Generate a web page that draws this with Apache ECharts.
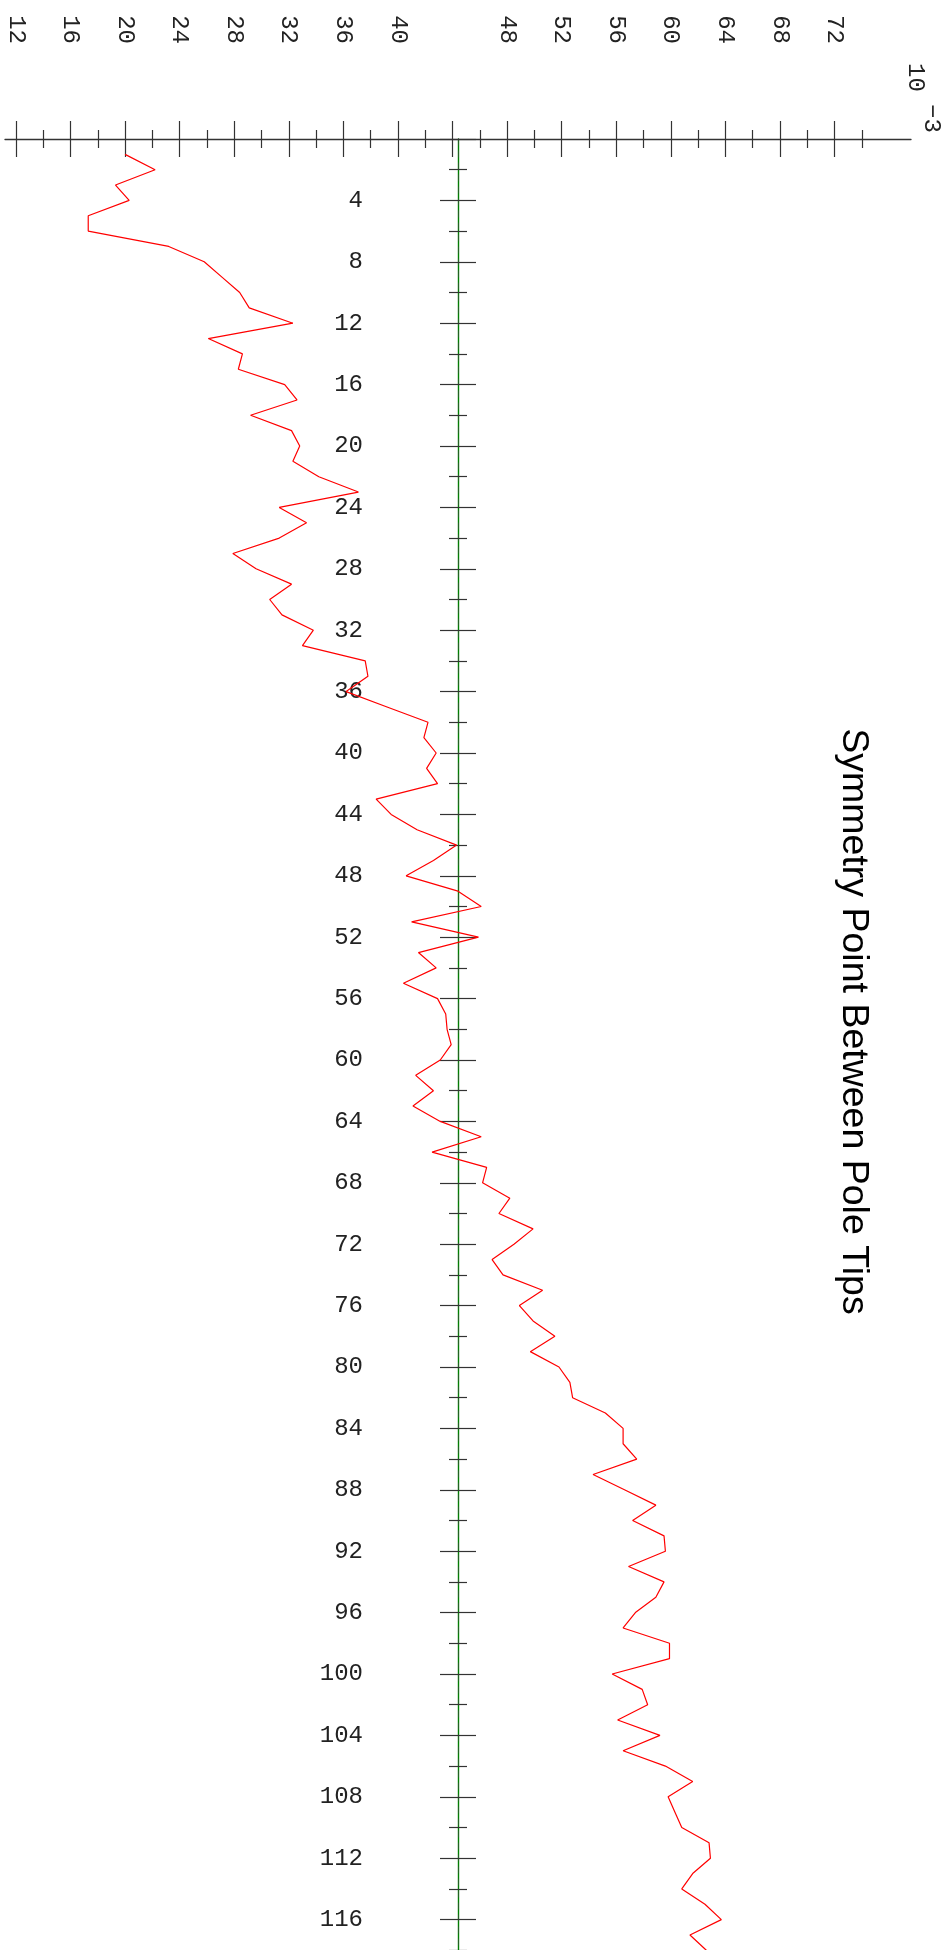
<!DOCTYPE html>
<html>
<head>
<meta charset="utf-8">
<script src="https://cdn.jsdelivr.net/npm/echarts@6.0.0/dist/echarts.min.js"></script>
<style>
html,body{margin:0;padding:0;background:#ffffff;}
#chart{width:944px;height:1950px;}
</style>
</head>
<body>
<div id="chart"></div>
<script>
// ---- data ----
const sampleIndex = [
  1,2,3,4,5,6,7,8,9,10,11,12,13,14,15,16,17,18,19,20,
  21,22,23,24,25,26,27,28,29,30,31,32,33,34,35,36,37,38,39,40,
  41,42,43,44,45,46,47,48,49,50,51,52,53,54,55,56,57,58,59,60,
  61,62,63,64,65,66,67,68,69,70,71,72,73,74,75,76,77,78,79,80,
  81,82,83,84,85,86,87,88,89,90,91,92,93,94,95,96,97,98,99,100,
  101,102,103,104,105,106,107,108,109,110,111,112,113,114,115,116,117,118
];
// symmetry point (units of 10^-3)
const symmetryPoint = [
  20.0,22.2,19.3,20.3,17.3,17.3,23.2,25.8,27.1,28.4,
  29.1,32.3,26.1,28.6,28.3,31.7,32.6,29.2,32.2,32.8,
  32.3,34.2,37.1,31.3,33.3,31.3,27.9,29.6,32.2,30.6,
  31.5,33.8,33.0,37.6,37.8,36.2,39.2,42.2,41.9,42.8,
  42.1,42.9,38.4,39.5,41.4,44.3,42.6,40.6,44.4,46.1,
  41.0,45.9,41.5,42.8,40.4,42.9,43.5,43.6,43.9,43.1,
  41.3,42.6,41.1,43.1,46.1,42.5,46.5,46.2,48.2,47.4,
  49.9,48.5,46.9,47.7,50.6,48.9,49.9,51.5,49.7,51.8,
  52.6,52.8,55.2,56.5,56.5,57.5,54.3,56.6,58.9,57.2,
  59.5,59.6,56.9,59.5,58.9,57.4,56.5,59.9,59.9,55.7,
  57.9,58.3,56.1,59.2,56.5,59.6,61.6,59.8,60.3,60.8,
  62.8,62.9,61.6,60.8,62.5,63.7,61.4,62.6
];
const valueMajorTicks = [12,16,20,24,28,32,36,40,44,48,52,56,60,64,68,72];
const valueMinorTicks = [14,18,22,26,30,34,38,42,46,50,54,58,62,66,70,74];
const valueTickLabels = [12,16,20,24,28,32,36,40,48,52,56,60,64,68,72];
const valueRange = [11.2, 77.6];
const indexRange = [0, 120];
const indexInterval = 4;
const titleText = 'Symmetry Point Between Pole Tips';
const scaleBase = '10';
const scaleExp = '\u22123';

// ---- layout ----
const G_LEFT = 5, G_TOP = 139, G_WIDTH = 906, PX_PER_INDEX = 15.35;
const G_HEIGHT = (indexRange[1] - indexRange[0]) * PX_PER_INDEX;
const midValue = (valueRange[0] + valueRange[1]) / 2;
const axisX = G_LEFT + (midValue - valueRange[0]) / (valueRange[1] - valueRange[0]) * G_WIDTH;

const MONO = '"Liberation Mono", "DejaVu Sans Mono", monospace';
const TICK_COLOR = '#333';
const labelFont = {fontFamily: MONO, fontSize: 24, color: '#222'};

function valueAxis(ticks, len, inside, withLine, withLabels) {
  return {
    type: 'value', gridIndex: 0, position: 'top', offset: 0,
    min: valueRange[0], max: valueRange[1],
    axisLine: {show: withLine, lineStyle: {color: '#333', width: 1.3}},
    axisTick: {show: true, customValues: ticks, length: len, inside: inside,
               lineStyle: {color: TICK_COLOR, width: 1.2}},
    axisLabel: withLabels ? Object.assign({show: true, customValues: valueTickLabels,
               rotate: -90, margin: 95}, labelFont) : {show: false},
    splitLine: {show: false}
  };
}
function indexAxis(inside, primary) {
  return {
    type: 'value', gridIndex: 1, position: 'left', offset: 0, inverse: true,
    min: indexRange[0], max: indexRange[1], interval: indexInterval,
    axisLine: primary
      ? {show: true, lineStyle: {color: '#008000', width: 1.4}}
      : {show: true, lineStyle: {color: '#444', width: 1, type: [6, 6], opacity: 0.55}},
    axisTick: {show: true, length: 18, inside: inside, lineStyle: {color: TICK_COLOR, width: 1.2}},
    minorTick: {show: true, splitNumber: 2, length: 9, lineStyle: {color: TICK_COLOR, width: 1.2}},
    axisLabel: primary ? Object.assign({show: true, margin: 95, showMinLabel: false}, labelFont) : {show: false},
    splitLine: {show: false}, minorSplitLine: {show: false}
  };
}

const chart = echarts.init(document.getElementById('chart'), null, {renderer: 'canvas'});
chart.setOption({
  animation: false,
  backgroundColor: '#ffffff',
  grid: [
    {left: G_LEFT, top: G_TOP, width: G_WIDTH, height: G_HEIGHT, outerBoundsMode: 'none', containLabel: false},
    {left: axisX, top: G_TOP, width: 300, height: G_HEIGHT, outerBoundsMode: 'none', containLabel: false}
  ],
  xAxis: [
    valueAxis(valueMajorTicks, 18, false, true, true),
    valueAxis(valueMajorTicks, 18, true, false, false),
    valueAxis(valueMinorTicks, 9, false, false, false),
    valueAxis(valueMinorTicks, 9, true, false, false),
    {type: 'value', gridIndex: 1, show: false, min: 0, max: 1}
  ],
  yAxis: [
    {type: 'value', gridIndex: 0, show: false, inverse: true, min: indexRange[0], max: indexRange[1]},
    indexAxis(false, true),
    indexAxis(true, false)
  ],
  series: [{
    type: 'line', xAxisIndex: 0, yAxisIndex: 0,
    data: symmetryPoint.map((v, i) => [v, sampleIndex[i]]),
    showSymbol: false, symbol: 'none',
    lineStyle: {color: '#ff0000', width: 1.2},
    z: 5
  }],
  graphic: [
    {type: 'text', x: 853, y: 1021.5, rotation: -Math.PI / 2,
     style: {text: titleText, font: '37.5px "Liberation Sans", Arial, sans-serif', fill: '#000',
             align: 'center', verticalAlign: 'middle'}},
    {type: 'text', x: 915, y: 63, rotation: -Math.PI / 2,
     style: {text: scaleBase, font: '24px ' + MONO, fill: '#222', align: 'left', verticalAlign: 'middle'}},
    {type: 'text', x: 931, y: 104, rotation: -Math.PI / 2,
     style: {text: scaleExp, font: '24px ' + MONO, fill: '#222', align: 'left', verticalAlign: 'middle'}}
  ]
});
</script>
</body>
</html>
